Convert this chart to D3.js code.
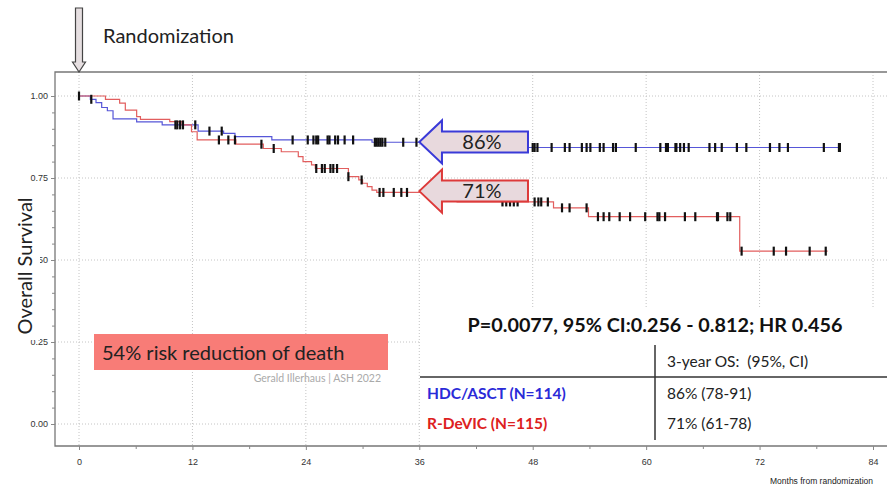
<!DOCTYPE html>
<html>
<head>
<meta charset="utf-8">
<script src="https://cdn.jsdelivr.net/npm/d3@7"></script>
<style>
  body { margin: 0; background: #fff; }
  .tick text { font-family: "Liberation Sans", Arial, sans-serif; fill: #333; }
  .slide { font-family: Lato, "Open Sans", sans-serif; white-space: pre; }
</style>
</head>
<body>
<div class="chart"></div>
<script>
// KM step data (months, survival after the drop)
var hdcTimes = [0, 1.2, 1.8, 2.4, 3.0, 3.6, 6.1, 8.8, 12.6, 15.3, 16.5, 20.4, 31.0, 42.0, 80.6];
var hdcSurv  = [1, 0.99, 0.98, 0.965, 0.955, 0.93, 0.921, 0.912, 0.893, 0.886, 0.876, 0.866, 0.859, 0.843, 0.843];
var hdcCensor = [0, 1.3, 10.2, 10.4, 10.7, 12.3, 13.8, 15.1, 22.6, 24.2, 24.8, 25.1, 25.3, 26.3, 26.5,
  27.1, 27.4, 28.1, 29.0, 31.3, 31.5, 31.7, 31.9, 32.1, 32.4, 34.3, 35.7, 48.0, 48.2, 48.5, 50.0,
  51.4, 51.9, 53.2, 53.7, 54.1, 55.1, 55.5, 56.5, 56.8, 58.9, 61.5, 62.1, 62.3, 63.1, 63.2, 63.6,
  64.0, 64.5, 66.7, 67.3, 68.0, 69.6, 70.6, 73.1, 74.1, 75.0, 78.8, 80.4, 80.5];

var devicTimes = [0, 2.8, 4.3, 4.9, 6.1, 6.5, 9.6, 10.9, 11.9, 12.5, 16.6, 19.5, 21.4, 23.2, 23.7, 24.6,
  25.0, 28.5, 29.6, 30.0, 30.5, 31.0, 31.5, 40.0, 50.2, 53.9, 69.9, 79.2];
var devicSurv  = [1, 0.99, 0.978, 0.957, 0.937, 0.929, 0.922, 0.912, 0.891, 0.866, 0.853, 0.840, 0.830,
  0.815, 0.800, 0.790, 0.779, 0.754, 0.744, 0.734, 0.724, 0.713, 0.706, 0.677, 0.659, 0.632, 0.527, 0.527];
var devicCensor = [11.0, 14.8, 15.8, 16.5, 19.3, 20.6, 25.1, 25.7, 26.0, 26.6, 26.9, 27.3, 28.5, 29.9,
  31.8, 32.2, 33.3, 34.1, 34.7, 44.8, 45.2, 45.6, 46.0, 46.4, 48.2, 48.6, 48.9, 49.6, 51.1, 51.9, 53.7,
  54.9, 55.5, 56.1, 57.2, 58.3, 59.9, 61.2, 61.4, 62.0, 64.1, 65.2, 67.5, 67.6, 68.6, 68.9, 70.1,
  73.5, 74.8, 77.3, 79.0];

var xTicks = [0, 12, 24, 36, 48, 60, 72, 84];
var yTicks = [0, 0.25, 0.5, 0.75, 1];
var os3yr = [0.86, 0.71];
var arrowLabels = ["86%", "71%"];
var groups = ["HDC/ASCT (N=114)", "R-DeVIC (N=115)"];
var groupOS = ["86% (78-91)", "71% (61-78)"];

var widthSVG = 887;
var heightSVG = 487;

var svg = d3.select(".chart")
  .append("svg")
  .attr("width", widthSVG)
  .attr("height", heightSVG);

var x = d3.scaleLinear().domain([0, 84]).range([79, 873]);
var y = d3.scaleLinear().domain([0, 1]).range([424, 96]);

var frameLeft = 55, frameTop = 72, frameBottom = 446;

// dotted grid
svg.append("g").selectAll("line")
  .data(yTicks).enter().append("line")
  .attr("x1", frameLeft).attr("x2", widthSVG)
  .attr("y1", d => y(d)).attr("y2", d => y(d))
  .attr("stroke", "#c4c4c4").attr("stroke-dasharray", "1,2");
svg.append("g").selectAll("line")
  .data(xTicks).enter().append("line")
  .attr("x1", d => x(d)).attr("x2", d => x(d))
  .attr("y1", frameTop).attr("y2", frameBottom)
  .attr("stroke", "#c4c4c4").attr("stroke-dasharray", "1,2");

// frame
svg.append("path")
  .attr("d", `M${widthSVG},${frameTop}H${frameLeft}V${frameBottom}H${widthSVG}`)
  .attr("fill", "none").attr("stroke", "#777").attr("stroke-width", 1.3);

// axes
var leftAxis = d3.axisLeft(y).tickValues(yTicks).tickFormat(d3.format(".2f")).tickSize(4).tickPadding(3);
var leftMinor = d3.axisLeft(y).tickValues(d3.range(0, 1.001, 0.05)).tickFormat("").tickSize(3);
var bottomAxis = d3.axisBottom(x).tickValues(xTicks).tickSize(4).tickPadding(9);
var bottomMinor = d3.axisBottom(x).tickValues(d3.range(6, 85, 12)).tickFormat("").tickSize(3);

[leftMinor, leftAxis].forEach(function (ax) {
  svg.append("g").attr("transform", `translate(${frameLeft},0)`).call(ax)
    .call(g => g.select(".domain").remove())
    .call(g => g.selectAll("line").attr("stroke", "#888"))
    .call(g => g.selectAll("text").attr("font-size", 9));
});
[bottomMinor, bottomAxis].forEach(function (ax) {
  svg.append("g").attr("transform", `translate(0,${frameBottom})`).call(ax)
    .call(g => g.select(".domain").remove())
    .call(g => g.selectAll("line").attr("stroke", "#888"))
    .call(g => g.selectAll("text").attr("font-size", 9));
});

svg.append("text")
  .attr("x", x(84)).attr("y", 484)
  .attr("text-anchor", "end")
  .attr("font-family", "Liberation Sans, Arial, sans-serif")
  .attr("font-size", 8.5).attr("fill", "#222")
  .text("Months from randomization");

// survival curves
var stepLine = d3.line()
  .x(d => x(d[0]))
  .y(d => y(d[1]))
  .curve(d3.curveStepAfter);

function survAt(times, surv, t) {
  var i = d3.bisectRight(times, t) - 1;
  return surv[Math.max(0, i)];
}

var curves = [
  { times: hdcTimes, surv: hdcSurv, censor: hdcCensor, color: "#5656d8" },
  { times: devicTimes, surv: devicSurv, censor: devicCensor, color: "#e25e5e" }
];

curves.forEach(function (c) {
  svg.append("path")
    .datum(d3.zip(c.times, c.surv))
    .attr("d", stepLine)
    .attr("fill", "none")
    .attr("stroke", c.color)
    .attr("stroke-width", 1.2);
});

curves.forEach(function (c) {
  svg.append("g").selectAll("line")
    .data(c.censor).enter().append("line")
    .attr("x1", d => x(d)).attr("x2", d => x(d))
    .attr("y1", d => y(survAt(c.times, c.surv, d)) - 4.5)
    .attr("y2", d => y(survAt(c.times, c.surv, d)) + 4.5)
    .attr("stroke", "#111")
    .attr("stroke-width", 2.2);
});

// big annotation arrows pointing at 3-year OS
var arrowColors = ["#3a3ad8", "#dd3a3a"];
os3yr.forEach(function (v, i) {
  var tipX = x(36), cy = y(v), headX = x(38.4), endX = x(47.5);
  var pts = [[tipX, cy], [headX, cy - 21.5], [headX, cy - 10.5], [endX, cy - 10.5],
    [endX, cy + 10.5], [headX, cy + 10.5], [headX, cy + 21.5]];
  svg.append("polygon")
    .attr("points", pts.map(p => p.join(",")).join(" "))
    .attr("fill", "#e8d9dd")
    .attr("stroke", arrowColors[i])
    .attr("stroke-width", 2);
  svg.append("text")
    .attr("class", "slide")
    .attr("x", (headX + endX) / 2 - 3).attr("y", cy + 7)
    .attr("text-anchor", "middle")
    .attr("font-size", 20).attr("fill", "#222")
    .text(arrowLabels[i]);
});

// randomization arrow
var rx = x(0);
svg.append("polygon")
  .attr("points", [[rx - 3.5, 8], [rx + 3.5, 8], [rx + 3.5, 62], [rx + 6.5, 62], [rx, 72],
    [rx - 6.5, 62], [rx - 3.5, 62]].map(p => p.join(",")).join(" "))
  .attr("fill", "#e6dfe1").attr("stroke", "#444").attr("stroke-width", 1.2);
svg.append("text")
  .attr("class", "slide")
  .attr("x", 103).attr("y", 43)
  .attr("font-size", 20).attr("fill", "#222")
  .text("Randomization");

// y title over a white block
svg.append("rect")
  .attr("x", 6).attr("y", 190).attr("width", 34).attr("height", 150)
  .attr("fill", "#fff");
svg.append("text")
  .attr("class", "slide")
  .attr("transform", "translate(32,266) rotate(-90)")
  .attr("text-anchor", "middle")
  .attr("font-size", 20).attr("fill", "#222")
  .text("Overall Survival");

// risk reduction box
svg.append("rect")
  .attr("x", 94).attr("y", 334).attr("width", 294).attr("height", 36)
  .attr("fill", "#f87c77");
svg.append("text")
  .attr("class", "slide")
  .attr("x", 102).attr("y", 360)
  .attr("font-size", 20).attr("fill", "#222")
  .text("54% risk reduction of death");
svg.append("text")
  .attr("class", "slide")
  .attr("x", 381).attr("y", 382)
  .attr("text-anchor", "end")
  .attr("font-size", 10.5).attr("fill", "#aaa")
  .text("Gerald Illerhaus | ASH 2022");

// results table
svg.append("rect")
  .attr("x", 420).attr("y", 307).attr("width", widthSVG - 420).attr("height", frameBottom - 308)
  .attr("fill", "#fff");
svg.append("text")
  .attr("class", "slide")
  .attr("x", 655).attr("y", 332)
  .attr("text-anchor", "middle")
  .attr("font-size", 19.8).attr("font-weight", "bold").attr("fill", "#111")
  .text("P=0.0077, 95% CI:0.256 - 0.812; HR 0.456");
svg.append("line")
  .attr("x1", 420).attr("x2", widthSVG).attr("y1", 377).attr("y2", 377)
  .attr("stroke", "#333").attr("stroke-width", 1.5);
svg.append("line")
  .attr("x1", 655).attr("x2", 655).attr("y1", 345).attr("y2", 440)
  .attr("stroke", "#333").attr("stroke-width", 1.5);
svg.append("text")
  .attr("class", "slide")
  .attr("x", 667).attr("y", 367)
  .attr("font-size", 15.5).attr("fill", "#222")
  .text("3-year OS:  (95%, CI)");

var rowY = [399, 429];
var rowColors = ["#2a2ad8", "#dd2020"];
svg.append("g").selectAll("text")
  .data(groups).enter().append("text")
  .attr("class", "slide")
  .attr("x", 427).attr("y", (d, i) => rowY[i])
  .attr("font-size", 15.5).attr("font-weight", "bold")
  .attr("fill", (d, i) => rowColors[i])
  .text(d => d);
svg.append("g").selectAll("text")
  .data(groupOS).enter().append("text")
  .attr("class", "slide")
  .attr("x", 667).attr("y", (d, i) => rowY[i])
  .attr("font-size", 15.5).attr("fill", "#222")
  .text(d => d);
</script>
</body>
</html>
